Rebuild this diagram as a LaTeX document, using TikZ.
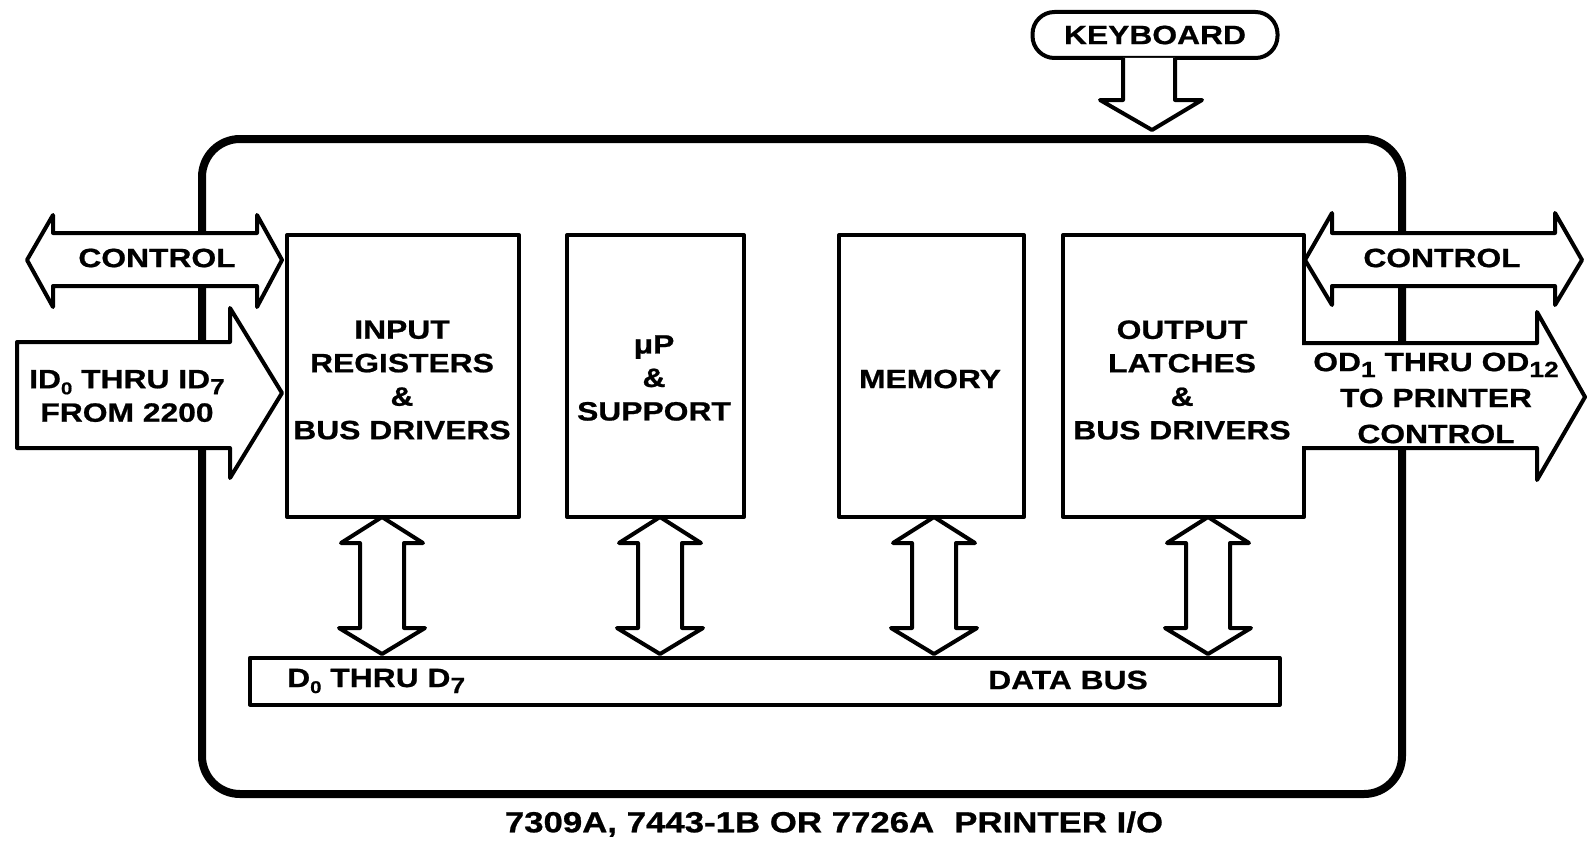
\documentclass[tikz,border=0pt]{standalone}
\usepackage{fontspec}
\setmainfont{Liberation Sans}[FakeStretch=1.2,BoldFeatures={FakeBold=0.8}]
\newcommand\sbs[1]{\raisebox{-6pt}{\fontsize{22}{22}\selectfont #1}}
\newcommand\sbsmall[1]{\raisebox{-6pt}{\fontsize{17}{17}\selectfont #1}}
\begin{document}
\begin{tikzpicture}[x=1pt,y=-1pt,line join=round,
  txt/.style={font=\fontsize{26.5}{33.5}\selectfont\bfseries,align=center,inner sep=0pt},
  blk/.style={draw,line width=4pt,anchor=north west,inner sep=0pt},
  fat/.style={draw,line width=4pt,fill=white,line join=round}]
\useasboundingbox (0,0) rectangle (1595,851);
% outer board
\node[draw,line width=8pt,rounded corners=38pt,minimum width=1200pt,minimum height=655pt,anchor=north west,inner sep=0pt] (outer) at (198,135) {};
% blocks
\node[blk,minimum width=232pt,minimum height=282pt] (inreg) at (285,233) {};
\node[blk,minimum width=177pt,minimum height=282pt] (up) at (565,233) {};
\node[blk,minimum width=185pt,minimum height=282pt] (mem) at (837,233) {};
\node[blk,minimum width=241pt,minimum height=282pt] (outl) at (1061,233) {};
\node[blk,line width=3.5pt,minimum width=1030pt,minimum height=47pt] (bus) at (248,656) {};
% keyboard
\node[draw,line width=4pt,rounded corners=22pt,minimum width=245pt,minimum height=46pt,inner sep=0pt,font=\fontsize{26.5}{30}\selectfont\bfseries] (kbd) at (1155,35) {KEYBOARD};
% keyboard arrow
\fill[white] (1123,58) -- (1123,100) -- (1100,100) -- (1152,130) -- (1202,100) -- (1175,100) -- (1175,58) -- cycle;
\draw[line width=4pt] (1123,58) -- (1123,100) -- (1100,100) -- (1152,130) -- (1202,100) -- (1175,100) -- (1175,58);
% left control arrow
\draw[fat] (27,260) -- (53,215) -- (53,233) -- (257,233) -- (257,215) -- (282,260) -- (257,307) -- (257,286) -- (53,286) -- (53,307) -- cycle;
% ID arrow
\draw[fat] (17,342) -- (230,342) -- (230,308) -- (282,393) -- (230,478) -- (230,448) -- (17,448) -- cycle;
% right control arrow
\draw[fat] (1305,260) -- (1332,213) -- (1332,233) -- (1555,233) -- (1555,213) -- (1582,260) -- (1555,305) -- (1555,286) -- (1332,286) -- (1332,305) -- cycle;
% OD arrow
\fill[white] (1302,343) -- (1537,343) -- (1537,312) -- (1585,397) -- (1537,480) -- (1537,448) -- (1302,448) -- cycle;
\draw[line width=4pt] (1302,343) -- (1537,343) -- (1537,312) -- (1585,397) -- (1537,480) -- (1537,448) -- (1302,448);
% vertical double arrows
\foreach \c in {382,660,934,1208}{
  \draw[fat] (\c,517) -- (\c+41,543) -- (\c+22,543) -- (\c+22,628) -- (\c+43,628) -- (\c,654) -- (\c-43,628) -- (\c-22,628) -- (\c-22,543) -- (\c-41,543) -- cycle;
}
% texts
\node[txt] (ctl1) at (157,258) {CONTROL};
\node[txt] (ctl2) at (1442,258) {CONTROL};
\node[txt] (idt) at (127,396) {ID\sbsmall{0} THRU ID\sbs{7}\\FROM 2200};
\node[txt,font=\fontsize{26.5}{36}\selectfont\bfseries] (odt) at (1436,398) {OD\sbs{1} THRU OD\sbs{12}\\TO PRINTER\\CONTROL};
\node[txt] (inregt) at (402,380) {INPUT\\REGISTERS\\\&\\BUS DRIVERS};
\node[txt] (upt) at (654,378) {μP\\\&\\SUPPORT};
\node[txt] (memt) at (930,379) {MEMORY};
\node[txt] (outlt) at (1182,380) {OUTPUT\\LATCHES\\\&\\BUS DRIVERS};
\node[txt,anchor=west] (d07) at (287,681) {D\sbsmall{0} THRU D\sbs{7}};
\node[txt] (dbus) at (1068,680) {DATA BUS};
\node[txt,font=\fontsize{29}{33}\selectfont\bfseries] (cap) at (834,824) {7309A, 7443-1B OR 7726A\hspace{20pt}PRINTER I/O};
\end{tikzpicture}
\end{document}
